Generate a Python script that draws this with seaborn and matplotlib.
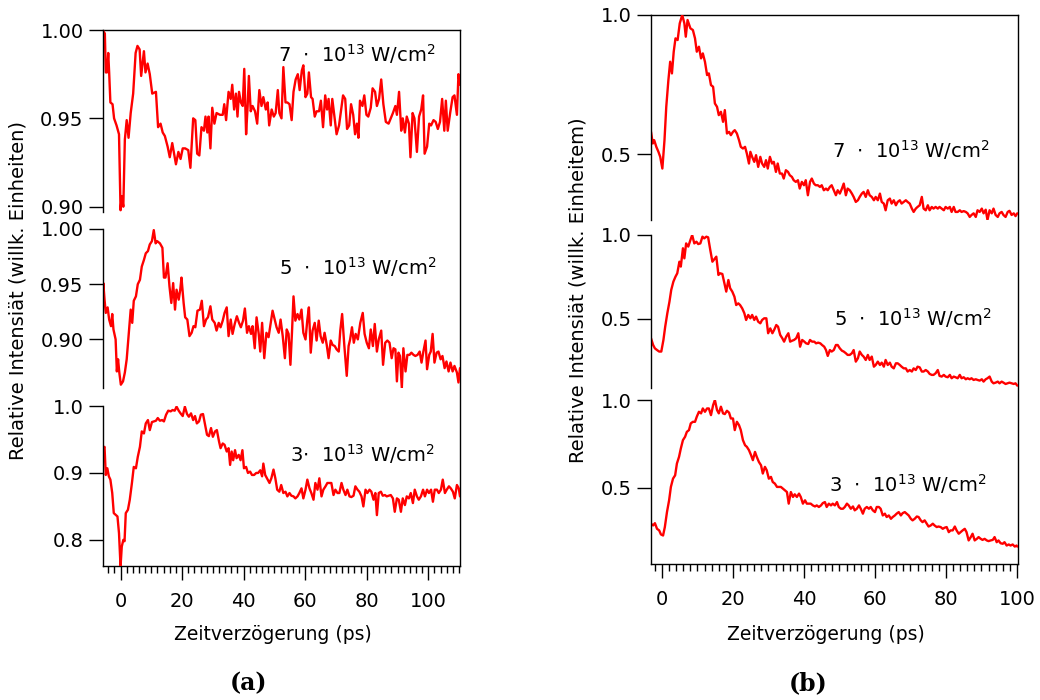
"""
Pump-probe traces: relative intensity vs. time delay for three pump intensities,
two stacked panels (a) and (b), drawn in an Igor-like stacked-axis style.
"""

import pandas as pd
import matplotlib.pyplot as plt
import seaborn as sns
from matplotlib.ticker import FormatStrFormatter, MultipleLocator

# ==========================
# Data
# ==========================
intensity_labels_a = [r"7  $\cdot$  10$^{13}$ W/cm$^{2}$",
                      r"5  $\cdot$  10$^{13}$ W/cm$^{2}$",
                      r"3$\cdot$  10$^{13}$ W/cm$^{2}$"]
intensity_labels_b = [r"7  $\cdot$  10$^{13}$ W/cm$^{2}$",
                      r"5  $\cdot$  10$^{13}$ W/cm$^{2}$",
                      r"3  $\cdot$  10$^{13}$ W/cm$^{2}$"]

# --- panel (a), 7e13 ---
t_a7 = [-5.8, -5.1, -4.8, -4.4, -4.0, -3.7, -3.3, -2.6, -2.1, -1.3,
        -0.5, 0.0, 0.4, 0.9, 1.4, 2.0, 2.6, 3.3, 4.1, 4.9,
        5.5, 6.2, 6.7, 7.6, 8.1, 8.8, 9.5, 10.3, 11.5, 12.2,
        13.0, 13.7, 14.4, 15.3, 16.0, 16.8, 17.5, 18.0, 18.8, 19.5,
        20.2, 21.0, 22.0, 22.7, 23.6, 24.3, 24.9, 25.6, 26.3, 27.1,
        27.6, 28.2, 28.6, 29.2, 29.8, 30.5, 31.2, 32.3, 33.2, 33.7,
        34.3, 35.1, 35.8, 36.3, 36.9, 37.5, 38.0, 38.5, 39.1, 39.7,
        40.2, 40.8, 41.3, 41.7, 42.3, 42.9, 43.7, 44.4, 45.1, 45.8,
        46.4, 47.2, 47.8, 48.3, 49.1, 49.8, 50.4, 51.1, 51.6, 52.3,
        52.9, 53.6, 54.2, 54.9, 55.6, 56.2, 56.9, 57.6, 58.2, 58.9,
        59.4, 60.1, 60.7, 61.2, 61.9, 62.4, 63.1, 63.7, 64.5, 65.1,
        65.8, 66.5, 67.1, 67.6, 68.3, 68.8, 69.5, 70.2, 71.0, 71.7,
        72.3, 73.0, 73.6, 74.3, 74.9, 75.6, 76.2, 76.8, 77.3, 77.8,
        78.6, 79.2, 79.9, 80.5, 81.3, 81.9, 82.7, 83.3, 84.0, 84.7,
        85.4, 86.2, 87.1, 87.8, 88.5, 89.3, 89.8, 90.5, 91.2, 91.7,
        92.4, 93.0, 93.7, 94.2, 94.9, 95.5, 96.3, 97.0, 97.7, 98.3,
        98.8, 99.6, 100.3, 100.9, 101.7, 102.4, 103.1, 103.8, 104.5, 105.2,
        105.7, 106.3, 107.1, 107.9, 108.5, 109.3, 109.8, 110.3]
v_a7 = [1.000, 0.998, 0.976, 0.976, 0.987, 0.976, 0.959, 0.958, 0.950, 0.946,
        0.941, 0.898, 0.906, 0.900, 0.938, 0.949, 0.939, 0.953, 0.964, 0.987,
        0.991, 0.989, 0.974, 0.988, 0.976, 0.981, 0.975, 0.964, 0.965, 0.945,
        0.947, 0.942, 0.940, 0.934, 0.928, 0.936, 0.929, 0.924, 0.931, 0.927,
        0.933, 0.933, 0.932, 0.922, 0.950, 0.949, 0.930, 0.929, 0.945, 0.943,
        0.951, 0.942, 0.951, 0.933, 0.956, 0.947, 0.953, 0.952, 0.952, 0.958,
        0.949, 0.965, 0.961, 0.969, 0.955, 0.964, 0.951, 0.965, 0.959, 0.957,
        0.978, 0.941, 0.957, 0.974, 0.954, 0.957, 0.954, 0.947, 0.966, 0.957,
        0.962, 0.955, 0.959, 0.946, 0.955, 0.951, 0.953, 0.966, 0.953, 0.950,
        0.979, 0.959, 0.959, 0.958, 0.949, 0.965, 0.972, 0.975, 0.966, 0.977,
        0.980, 0.962, 0.964, 0.976, 0.962, 0.961, 0.951, 0.954, 0.954, 0.960,
        0.945, 0.963, 0.955, 0.961, 0.946, 0.961, 0.951, 0.941, 0.946, 0.955,
        0.963, 0.961, 0.944, 0.946, 0.958, 0.952, 0.941, 0.947, 0.939, 0.960,
        0.957, 0.963, 0.952, 0.951, 0.956, 0.967, 0.965, 0.957, 0.961, 0.972,
        0.958, 0.948, 0.947, 0.950, 0.953, 0.957, 0.952, 0.965, 0.943, 0.950,
        0.942, 0.951, 0.947, 0.928, 0.953, 0.950, 0.931, 0.951, 0.955, 0.963,
        0.930, 0.934, 0.947, 0.946, 0.949, 0.948, 0.944, 0.948, 0.961, 0.943,
        0.960, 0.943, 0.953, 0.962, 0.963, 0.952, 0.975, 0.969]

# --- panel (a), 5e13 ---
t_a5 = [-5.8, -5.6, -5.2, -4.8, -4.2, -3.7, -3.1, -2.7, -2.3, -1.6,
        -1.2, -0.8, -0.4, 0.1, 0.8, 1.4, 2.0, 2.6, 3.3, 3.8,
        4.3, 5.0, 5.6, 6.3, 6.9, 7.6, 8.2, 8.9, 9.5, 10.2,
        10.8, 11.4, 11.9, 12.8, 13.6, 14.1, 14.6, 15.3, 15.9, 16.5,
        17.1, 17.7, 18.2, 18.9, 19.4, 19.8, 20.5, 21.0, 21.7, 22.4,
        23.1, 23.7, 24.3, 25.0, 25.8, 26.4, 27.1, 27.8, 28.4, 29.2,
        29.8, 30.6, 31.2, 31.9, 32.5, 33.2, 33.8, 34.5, 35.1, 35.8,
        36.4, 37.1, 37.8, 38.5, 39.1, 39.8, 40.4, 41.1, 41.7, 42.4,
        42.9, 43.6, 44.2, 44.9, 45.4, 46.0, 46.7, 47.4, 48.1, 48.8,
        49.4, 50.1, 50.7, 51.4, 52.0, 52.7, 53.4, 54.0, 54.6, 55.2,
        55.7, 56.2, 56.8, 57.5, 58.1, 58.8, 59.4, 60.1, 60.7, 61.2,
        61.8, 62.4, 63.1, 63.7, 64.4, 65.0, 65.7, 66.3, 67.0, 67.6,
        68.3, 68.9, 69.6, 70.2, 70.9, 71.4, 72.0, 72.7, 73.5, 74.1,
        74.6, 75.2, 75.8, 76.4, 77.1, 77.9, 78.7, 79.3, 80.0, 80.7,
        81.3, 82.0, 82.6, 83.3, 83.9, 84.7, 85.3, 86.0, 86.7, 87.4,
        88.1, 88.7, 89.3, 89.8, 90.3, 90.8, 91.4, 91.9, 92.6, 93.2,
        93.9, 94.5, 95.2, 95.8, 96.5, 97.2, 97.8, 98.4, 99.1, 99.6,
        100.3, 100.8, 101.4, 102.0, 102.7, 103.3, 104.0, 104.6, 105.3, 105.9,
        106.6, 107.2, 107.9, 108.5, 109.3, 109.8, 110.3]
v_a5 = [0.939, 0.951, 0.936, 0.924, 0.929, 0.918, 0.912, 0.923, 0.909, 0.900,
        0.871, 0.882, 0.870, 0.859, 0.862, 0.870, 0.882, 0.903, 0.927, 0.915,
        0.935, 0.939, 0.950, 0.954, 0.966, 0.972, 0.978, 0.980, 0.986, 0.989,
        0.999, 0.987, 0.989, 0.987, 0.983, 0.956, 0.956, 0.969, 0.948, 0.933,
        0.951, 0.927, 0.945, 0.936, 0.945, 0.956, 0.933, 0.920, 0.918, 0.903,
        0.906, 0.912, 0.911, 0.926, 0.927, 0.935, 0.912, 0.918, 0.920, 0.930,
        0.918, 0.915, 0.908, 0.915, 0.911, 0.917, 0.924, 0.929, 0.903, 0.918,
        0.905, 0.914, 0.921, 0.915, 0.911, 0.917, 0.928, 0.906, 0.912, 0.905,
        0.912, 0.892, 0.920, 0.905, 0.889, 0.915, 0.883, 0.906, 0.902, 0.915,
        0.926, 0.918, 0.911, 0.906, 0.918, 0.903, 0.883, 0.909, 0.905, 0.877,
        0.906, 0.939, 0.917, 0.923, 0.918, 0.927, 0.906, 0.900, 0.918, 0.929,
        0.888, 0.908, 0.915, 0.899, 0.917, 0.903, 0.897, 0.906, 0.895, 0.883,
        0.899, 0.895, 0.894, 0.891, 0.889, 0.908, 0.923, 0.895, 0.867, 0.894,
        0.900, 0.911, 0.897, 0.905, 0.900, 0.915, 0.924, 0.905, 0.897, 0.892,
        0.909, 0.894, 0.914, 0.889, 0.900, 0.908, 0.877, 0.897, 0.899, 0.897,
        0.883, 0.892, 0.891, 0.862, 0.888, 0.885, 0.856, 0.892, 0.871, 0.886,
        0.886, 0.888, 0.886, 0.885, 0.886, 0.889, 0.879, 0.889, 0.899, 0.873,
        0.886, 0.889, 0.905, 0.879, 0.888, 0.889, 0.882, 0.885, 0.874, 0.880,
        0.871, 0.879, 0.871, 0.876, 0.870, 0.861, 0.874]

# --- panel (a), 3e13 ---
t_a3 = [-5.8, -5.6, -5.2, -4.8, -4.3, -3.8, -3.3, -2.7, -2.2, -1.5,
        -1.0, -0.5, 0.0, 0.4, 0.9, 1.3, 1.7, 2.4, 3.0, 3.7,
        4.3, 5.0, 5.6, 6.3, 6.9, 7.6, 8.2, 8.9, 9.5, 10.2,
        10.8, 11.5, 12.1, 12.8, 13.5, 14.1, 14.8, 15.5, 16.3, 16.9,
        17.6, 18.2, 18.9, 19.5, 20.2, 20.9, 21.6, 22.2, 22.9, 23.6,
        24.2, 24.8, 25.5, 26.1, 26.8, 27.4, 28.1, 28.7, 29.4, 30.0,
        30.7, 31.3, 32.0, 32.5, 33.2, 33.8, 34.5, 35.1, 35.6, 36.1,
        36.6, 37.2, 37.7, 38.4, 39.0, 39.6, 40.1, 40.8, 41.4, 42.1,
        42.7, 43.4, 44.1, 44.7, 45.4, 46.0, 46.4, 47.0, 47.7, 48.4,
        49.0, 49.7, 50.3, 50.9, 51.6, 52.2, 52.9, 53.6, 54.2, 54.9,
        55.5, 56.2, 56.8, 57.5, 58.1, 58.8, 59.4, 60.1, 60.7, 61.4,
        62.0, 62.7, 63.3, 64.0, 64.6, 65.3, 65.9, 66.6, 67.2, 67.9,
        68.5, 69.2, 69.8, 70.5, 71.1, 71.8, 72.4, 73.1, 73.7, 74.4,
        75.0, 75.7, 76.3, 77.0, 77.6, 78.3, 78.9, 79.6, 80.2, 80.9,
        81.5, 82.2, 82.8, 83.3, 83.9, 84.6, 85.2, 85.9, 86.5, 87.2,
        87.8, 88.5, 89.1, 89.8, 90.4, 91.1, 91.7, 92.4, 93.0, 93.7,
        94.3, 95.0, 95.6, 96.3, 96.9, 97.6, 98.3, 98.9, 99.6, 100.2,
        100.9, 101.5, 102.1, 102.8, 103.4, 104.1, 104.7, 105.4, 106.0, 106.7,
        107.3, 108.0, 108.6, 109.3, 109.9, 110.3]
v_a3 = [0.919, 0.937, 0.939, 0.897, 0.907, 0.895, 0.890, 0.870, 0.840, 0.837,
        0.835, 0.810, 0.760, 0.790, 0.800, 0.798, 0.840, 0.845, 0.860, 0.885,
        0.909, 0.907, 0.924, 0.939, 0.962, 0.959, 0.974, 0.979, 0.964, 0.976,
        0.977, 0.978, 0.982, 0.978, 0.979, 0.977, 0.987, 0.993, 0.992, 0.994,
        0.993, 0.999, 0.993, 0.989, 0.985, 0.999, 0.988, 0.984, 0.989, 0.979,
        0.985, 0.974, 0.977, 0.987, 0.988, 0.974, 0.957, 0.955, 0.967, 0.954,
        0.962, 0.964, 0.947, 0.937, 0.944, 0.942, 0.932, 0.937, 0.912, 0.932,
        0.919, 0.934, 0.922, 0.927, 0.919, 0.934, 0.907, 0.909, 0.900, 0.902,
        0.897, 0.897, 0.900, 0.900, 0.904, 0.895, 0.914, 0.897, 0.891, 0.885,
        0.892, 0.905, 0.892, 0.875, 0.872, 0.882, 0.870, 0.872, 0.865, 0.870,
        0.866, 0.865, 0.862, 0.865, 0.870, 0.877, 0.862, 0.875, 0.890, 0.877,
        0.870, 0.860, 0.885, 0.875, 0.892, 0.865, 0.875, 0.880, 0.885, 0.885,
        0.885, 0.867, 0.875, 0.870, 0.870, 0.885, 0.875, 0.867, 0.875, 0.865,
        0.864, 0.866, 0.880, 0.875, 0.872, 0.865, 0.850, 0.875, 0.870, 0.875,
        0.872, 0.860, 0.870, 0.837, 0.870, 0.872, 0.866, 0.867, 0.865, 0.866,
        0.867, 0.862, 0.842, 0.862, 0.860, 0.842, 0.862, 0.852, 0.865, 0.862,
        0.870, 0.855, 0.875, 0.865, 0.860, 0.865, 0.875, 0.865, 0.875, 0.870,
        0.875, 0.857, 0.875, 0.875, 0.870, 0.875, 0.890, 0.870, 0.875, 0.880,
        0.877, 0.872, 0.862, 0.882, 0.877, 0.865]

# --- panel (b), 7e13 ---
t_b7 = [-3.1, -2.6, -2.2, -1.6, -1.0, -0.5, 0.1, 0.7, 1.2, 1.8,
        2.3, 2.8, 3.3, 3.8, 4.4, 5.0, 5.7, 6.3, 6.7, 7.2,
        8.0, 8.7, 9.3, 9.8, 10.4, 11.0, 11.5, 12.1, 12.7, 13.2,
        13.8, 14.4, 14.9, 15.5, 16.0, 16.6, 17.2, 17.7, 18.3, 18.9,
        19.4, 20.0, 20.5, 21.1, 21.7, 22.2, 22.8, 23.4, 23.9, 24.5,
        24.9, 25.4, 26.0, 26.5, 27.1, 27.7, 28.2, 28.8, 29.3, 29.8,
        30.4, 31.0, 31.5, 32.1, 32.6, 33.2, 33.8, 34.3, 34.9, 35.5,
        36.0, 36.6, 37.1, 37.7, 38.3, 38.8, 39.4, 40.0, 40.5, 41.1,
        41.7, 42.2, 42.8, 43.3, 43.9, 44.5, 45.0, 45.6, 46.2, 46.7,
        47.3, 47.8, 48.4, 49.0, 49.5, 50.1, 50.7, 51.2, 51.8, 52.3,
        52.9, 53.5, 54.0, 54.6, 55.2, 55.7, 56.3, 56.8, 57.4, 58.0,
        58.5, 59.1, 59.7, 60.2, 60.8, 61.4, 61.9, 62.5, 63.0, 63.6,
        64.2, 64.7, 65.3, 65.9, 66.4, 67.0, 67.5, 68.1, 68.7, 69.2,
        69.8, 70.4, 70.9, 71.5, 72.0, 72.6, 73.2, 73.7, 74.3, 74.9,
        75.4, 76.0, 76.5, 77.1, 77.7, 78.2, 78.8, 79.4, 79.9, 80.5,
        81.1, 81.6, 82.2, 82.7, 83.3, 83.9, 84.4, 85.0, 85.6, 86.1,
        86.7, 87.2, 87.8, 88.4, 88.9, 89.5, 90.1, 90.6, 91.2, 91.7,
        92.3, 92.9, 93.4, 94.0, 94.6, 95.1, 95.7, 96.2, 96.8, 97.4,
        97.9, 98.5, 99.1, 99.6, 100.1]
v_b7 = [0.580, 0.538, 0.550, 0.526, 0.508, 0.490, 0.448, 0.550, 0.670, 0.766,
        0.832, 0.790, 0.868, 0.916, 0.910, 0.970, 1.000, 0.970, 0.922, 0.982,
        0.952, 0.946, 0.916, 0.868, 0.886, 0.844, 0.862, 0.832, 0.784, 0.790,
        0.748, 0.742, 0.682, 0.670, 0.640, 0.652, 0.616, 0.658, 0.574, 0.580,
        0.568, 0.580, 0.586, 0.574, 0.550, 0.526, 0.520, 0.526, 0.502, 0.466,
        0.508, 0.490, 0.472, 0.496, 0.454, 0.490, 0.466, 0.454, 0.478, 0.448,
        0.490, 0.466, 0.472, 0.436, 0.466, 0.430, 0.430, 0.412, 0.442, 0.436,
        0.424, 0.418, 0.406, 0.400, 0.406, 0.376, 0.400, 0.388, 0.406, 0.352,
        0.400, 0.412, 0.394, 0.388, 0.388, 0.382, 0.388, 0.370, 0.376, 0.370,
        0.382, 0.388, 0.370, 0.352, 0.370, 0.358, 0.376, 0.394, 0.352, 0.376,
        0.370, 0.358, 0.346, 0.328, 0.334, 0.346, 0.358, 0.364, 0.346, 0.370,
        0.352, 0.346, 0.334, 0.346, 0.334, 0.358, 0.328, 0.322, 0.298, 0.334,
        0.340, 0.322, 0.334, 0.316, 0.328, 0.334, 0.322, 0.328, 0.334, 0.328,
        0.322, 0.304, 0.292, 0.304, 0.310, 0.316, 0.346, 0.304, 0.298, 0.316,
        0.298, 0.310, 0.304, 0.310, 0.304, 0.310, 0.304, 0.298, 0.310, 0.304,
        0.310, 0.292, 0.310, 0.292, 0.292, 0.298, 0.292, 0.295, 0.292, 0.287,
        0.274, 0.281, 0.287, 0.274, 0.298, 0.292, 0.304, 0.287, 0.300, 0.263,
        0.298, 0.287, 0.304, 0.281, 0.274, 0.287, 0.292, 0.281, 0.274, 0.292,
        0.296, 0.281, 0.287, 0.277, 0.287]

# --- panel (b), 5e13 ---
t_b5 = [-3.1, -2.5, -2.0, -1.4, -0.8, -0.2, 0.4, 0.9, 1.5, 2.1,
        2.6, 3.2, 3.8, 4.3, 4.9, 5.3, 5.9, 6.3, 6.8, 7.4,
        8.0, 8.5, 9.1, 9.7, 10.2, 10.8, 11.4, 11.9, 12.5, 13.0,
        13.6, 14.2, 14.7, 15.3, 15.9, 16.4, 17.0, 17.6, 18.1, 18.7,
        19.2, 19.8, 20.4, 20.9, 21.5, 22.0, 22.6, 23.2, 23.7, 24.3,
        24.9, 25.4, 26.0, 26.5, 27.1, 27.7, 28.2, 28.8, 29.4, 29.9,
        30.5, 31.1, 31.6, 32.2, 32.7, 33.3, 33.9, 34.4, 35.0, 35.6,
        36.1, 36.7, 37.2, 37.8, 38.4, 38.9, 39.5, 40.1, 40.6, 41.2,
        41.7, 42.3, 42.9, 43.4, 44.0, 44.6, 45.1, 45.7, 46.2, 46.7,
        47.3, 47.8, 48.4, 49.0, 49.5, 50.1, 50.7, 51.2, 51.8, 52.3,
        52.9, 53.5, 54.0, 54.6, 55.2, 55.7, 56.3, 56.8, 57.4, 58.0,
        58.5, 59.1, 59.7, 60.2, 60.8, 61.4, 61.9, 62.5, 63.0, 63.6,
        64.2, 64.7, 65.3, 65.9, 66.4, 67.0, 67.5, 68.1, 68.7, 69.2,
        69.8, 70.4, 70.9, 71.5, 72.0, 72.6, 73.2, 73.7, 74.3, 74.9,
        75.4, 76.0, 76.5, 77.1, 77.7, 78.2, 78.8, 79.4, 79.9, 80.5,
        81.1, 81.6, 82.2, 82.7, 83.3, 83.9, 84.4, 85.0, 85.6, 86.1,
        86.7, 87.2, 87.8, 88.4, 88.9, 89.5, 90.1, 90.6, 91.2, 91.7,
        92.3, 92.9, 93.4, 94.0, 94.6, 95.1, 95.7, 96.2, 96.8, 97.4,
        97.9, 98.5, 99.1, 99.6, 100.1]
v_b5 = [0.385, 0.345, 0.325, 0.315, 0.306, 0.306, 0.375, 0.454, 0.534, 0.603,
        0.673, 0.722, 0.752, 0.772, 0.841, 0.812, 0.921, 0.861, 0.950, 0.931,
        0.970, 1.000, 0.950, 0.960, 0.946, 0.950, 0.990, 0.980, 0.990, 0.986,
        0.911, 0.841, 0.855, 0.871, 0.762, 0.772, 0.768, 0.712, 0.663, 0.732,
        0.683, 0.663, 0.633, 0.583, 0.593, 0.583, 0.563, 0.534, 0.494, 0.524,
        0.504, 0.524, 0.494, 0.514, 0.484, 0.474, 0.494, 0.504, 0.504, 0.415,
        0.444, 0.415, 0.435, 0.464, 0.454, 0.405, 0.385, 0.365, 0.395, 0.415,
        0.365, 0.371, 0.375, 0.385, 0.415, 0.335, 0.375, 0.365, 0.355, 0.351,
        0.375, 0.365, 0.365, 0.355, 0.359, 0.355, 0.345, 0.335, 0.315, 0.280,
        0.315, 0.306, 0.315, 0.345, 0.345, 0.325, 0.311, 0.306, 0.296, 0.286,
        0.286, 0.296, 0.315, 0.246, 0.266, 0.306, 0.286, 0.276, 0.256, 0.286,
        0.256, 0.276, 0.216, 0.226, 0.246, 0.226, 0.240, 0.216, 0.256, 0.226,
        0.240, 0.216, 0.206, 0.236, 0.236, 0.226, 0.216, 0.206, 0.206, 0.187,
        0.196, 0.187, 0.206, 0.196, 0.216, 0.212, 0.187, 0.187, 0.196, 0.187,
        0.173, 0.167, 0.167, 0.177, 0.196, 0.161, 0.157, 0.167, 0.157, 0.153,
        0.167, 0.147, 0.157, 0.153, 0.147, 0.167, 0.147, 0.153, 0.141, 0.147,
        0.141, 0.147, 0.137, 0.141, 0.137, 0.133, 0.141, 0.127, 0.141, 0.147,
        0.157, 0.127, 0.117, 0.121, 0.127, 0.117, 0.127, 0.121, 0.113, 0.117,
        0.121, 0.117, 0.113, 0.117, 0.103]

# --- panel (b), 3e13 ---
t_b3 = [-3.1, -2.5, -2.0, -1.4, -0.8, -0.3, 0.3, 0.8, 1.4, 2.0,
        2.5, 3.1, 3.7, 4.2, 4.8, 5.3, 5.9, 6.5, 7.0, 7.6,
        8.1, 8.7, 9.3, 9.8, 10.4, 11.0, 11.5, 12.1, 12.7, 13.2,
        13.8, 14.4, 14.9, 15.5, 16.0, 16.6, 17.2, 17.7, 18.3, 18.9,
        19.4, 20.0, 20.5, 21.1, 21.7, 22.2, 22.8, 23.4, 23.9, 24.5,
        25.1, 25.6, 26.2, 26.7, 27.3, 27.9, 28.4, 29.0, 29.5, 30.1,
        30.7, 31.2, 31.8, 32.4, 32.9, 33.5, 34.1, 34.6, 35.2, 35.7,
        36.3, 36.9, 37.4, 38.0, 38.6, 39.1, 39.7, 40.3, 40.8, 41.4,
        41.9, 42.5, 43.1, 43.6, 44.2, 44.8, 45.3, 45.9, 46.4, 47.0,
        47.6, 48.1, 48.7, 49.3, 49.8, 50.4, 51.0, 51.5, 52.1, 52.6,
        53.2, 53.8, 54.3, 54.9, 55.5, 56.0, 56.6, 57.1, 57.7, 58.3,
        58.8, 59.4, 60.0, 60.5, 61.1, 61.6, 62.2, 62.8, 63.3, 63.9,
        64.5, 65.0, 65.6, 66.1, 66.7, 67.3, 67.8, 68.4, 68.9, 69.5,
        70.1, 70.6, 71.2, 71.8, 72.3, 72.9, 73.4, 74.0, 74.6, 75.1,
        75.7, 76.3, 76.8, 77.4, 77.9, 78.5, 79.1, 79.6, 80.2, 80.8,
        81.3, 81.9, 82.5, 83.0, 83.6, 84.1, 84.7, 85.3, 85.8, 86.4,
        87.0, 87.5, 88.1, 88.7, 89.2, 89.8, 90.3, 90.9, 91.5, 92.0,
        92.6, 93.2, 93.7, 94.3, 94.8, 95.4, 96.0, 96.5, 97.1, 97.7,
        98.2, 98.8, 99.4, 99.9, 100.1]
v_b3 = [0.297, 0.287, 0.300, 0.268, 0.259, 0.236, 0.230, 0.278, 0.363, 0.430,
        0.506, 0.553, 0.572, 0.639, 0.677, 0.724, 0.772, 0.791, 0.819, 0.829,
        0.867, 0.876, 0.876, 0.905, 0.933, 0.924, 0.952, 0.933, 0.952, 0.952,
        0.914, 0.971, 1.000, 0.943, 0.924, 0.962, 0.924, 0.920, 0.939, 0.928,
        0.895, 0.895, 0.829, 0.876, 0.857, 0.829, 0.772, 0.743, 0.734, 0.715,
        0.686, 0.658, 0.705, 0.677, 0.648, 0.629, 0.582, 0.620, 0.601, 0.553,
        0.563, 0.534, 0.525, 0.506, 0.506, 0.506, 0.496, 0.487, 0.477, 0.411,
        0.477, 0.449, 0.464, 0.449, 0.468, 0.449, 0.411, 0.430, 0.411, 0.411,
        0.411, 0.401, 0.395, 0.401, 0.392, 0.401, 0.414, 0.420, 0.392, 0.411,
        0.401, 0.411, 0.401, 0.420, 0.392, 0.382, 0.382, 0.392, 0.411, 0.401,
        0.382, 0.395, 0.373, 0.382, 0.401, 0.382, 0.354, 0.382, 0.392, 0.382,
        0.392, 0.373, 0.363, 0.392, 0.392, 0.382, 0.344, 0.354, 0.335, 0.344,
        0.325, 0.335, 0.344, 0.354, 0.363, 0.344, 0.357, 0.363, 0.354, 0.344,
        0.325, 0.316, 0.325, 0.338, 0.335, 0.316, 0.306, 0.316, 0.297, 0.281,
        0.287, 0.297, 0.287, 0.278, 0.281, 0.278, 0.268, 0.274, 0.278, 0.249,
        0.259, 0.259, 0.281, 0.259, 0.240, 0.249, 0.259, 0.268, 0.249, 0.202,
        0.221, 0.240, 0.202, 0.211, 0.221, 0.211, 0.205, 0.211, 0.202, 0.198,
        0.202, 0.205, 0.221, 0.192, 0.202, 0.186, 0.183, 0.192, 0.173, 0.179,
        0.173, 0.179, 0.167, 0.173, 0.167]

# ==========================
# Style
# ==========================
sns.set_style("ticks")
plt.rcParams["font.family"] = ["DejaVu Sans"]
plt.rcParams["axes.linewidth"] = 1.0
plt.rcParams["axes.edgecolor"] = "black"
plt.rcParams["text.color"] = "black"
plt.rcParams["axes.labelcolor"] = "black"
plt.rcParams["xtick.color"] = "black"
plt.rcParams["ytick.color"] = "black"

RED = "#ff0000"
W, H = 1040, 700


def box(x0, y0, x1, y1):
    """pixel box (top-left origin) -> figure fraction rect"""
    return [x0 / W, 1 - y1 / H, (x1 - x0) / W, (y1 - y0) / H]


fig = plt.figure(figsize=(10.4, 7.0), dpi=100)


def make_frame(rect, xlim):
    # one tall axes carrying the shared x axis, top line and right line
    fr = fig.add_axes(rect, zorder=0)
    fr.set_xlim(*xlim)
    fr.set_ylim(0, 1)
    fr.set_yticks([])
    fr.spines["left"].set_visible(False)
    fr.xaxis.set_major_locator(MultipleLocator(20))
    fr.xaxis.set_minor_locator(MultipleLocator(2))
    fr.tick_params(axis="x", which="major", direction="out", length=10,
                   width=1.0, labelsize=14, pad=9)
    fr.tick_params(axis="x", which="minor", direction="out", length=5, width=1.0)
    fr.set_xlabel("")
    return fr


def make_trace(rect, xlim, ylim, yticks, fmt, t, v):
    ax = fig.add_axes(rect, zorder=1)
    ax.patch.set_alpha(0)
    df = pd.DataFrame({"t": t, "v": v})
    sns.lineplot(data=df, x="t", y="v", ax=ax, color=RED, linewidth=1.7,
                 estimator=None, sort=False, legend=False)
    ax.set_xlim(*xlim)
    ax.set_ylim(*ylim)
    ax.set_xticks([])
    ax.set_yticks(yticks)
    ax.yaxis.set_major_formatter(FormatStrFormatter(fmt))
    ax.tick_params(axis="y", direction="out", length=10, width=1.0,
                   labelsize=14, pad=4)
    for s in ["top", "right", "bottom"]:
        ax.spines[s].set_visible(False)
    ax.set_xlabel("")
    ax.set_ylabel("")
    return ax


# ===============================================
# PANEL (a)
# ===============================================
xlim_a = (-5.7, 110.3)
make_frame(box(103, 30, 460, 566), xlim_a)
make_trace(box(103, 30, 460, 212), xlim_a, (0.897, 1.0),
           [0.90, 0.95, 1.00], "%.2f", t_a7, v_a7)
make_trace(box(103, 229, 460, 388), xlim_a, (0.856, 1.0),
           [0.90, 0.95, 1.00], "%.2f", t_a5, v_a5)
make_trace(box(103, 406, 460, 566), xlim_a, (0.761, 1.0),
           [0.8, 0.9, 1.0], "%.1f", t_a3, v_a3)

# ===============================================
# PANEL (b)
# ===============================================
xlim_b = (-3.1, 100.3)
make_frame(box(651, 15, 1018, 564), xlim_b)
make_trace(box(651, 15, 1018, 220), xlim_b, (0.263, 1.0),
           [0.5, 1.0], "%.1f", t_b7, v_b7)
make_trace(box(651, 235, 1018, 388), xlim_b, (0.089, 1.0),
           [0.5, 1.0], "%.1f", t_b5, v_b5)
make_trace(box(651, 400, 1018, 564), xlim_b, (0.068, 1.0),
           [0.5, 1.0], "%.1f", t_b3, v_b3)

# ===============================================
# LABELS
# ===============================================
label_pos_a = [(436, 62), (437, 275), (435, 462)]
label_pos_b = [(990, 158), (992, 326), (987, 492)]
for (px, py), txt in zip(label_pos_a, intensity_labels_a):
    fig.text(px / W, 1 - py / H, txt, ha="right", va="baseline", fontsize=14)
for (px, py), txt in zip(label_pos_b, intensity_labels_b):
    fig.text(px / W, 1 - py / H, txt, ha="right", va="baseline", fontsize=14)

fig.text(18 / W, 1 - 290 / H, "Relative Intensiät (willk. Einheiten)",
         rotation=90, ha="center", va="center", fontsize=14)
fig.text(578 / W, 1 - 290 / H, "Relative Intensiät (willk. Einheitem)",
         rotation=90, ha="center", va="center", fontsize=14)

fig.text(273 / W, 1 - 634 / H, "Zeitverzögerung (ps)",
         ha="center", va="center", fontsize=13.5)
fig.text(826 / W, 1 - 634 / H, "Zeitverzögerung (ps)",
         ha="center", va="center", fontsize=13.5)

fig.text(248 / W, 1 - 683 / H, "(a)", ha="center", va="center",
         fontsize=17, fontweight="bold", family="DejaVu Serif")
fig.text(808 / W, 1 - 683 / H, "(b)", ha="center", va="center",
         fontsize=17, fontweight="bold", family="DejaVu Serif")

plt.savefig("out.png", dpi=100)
plt.close()
